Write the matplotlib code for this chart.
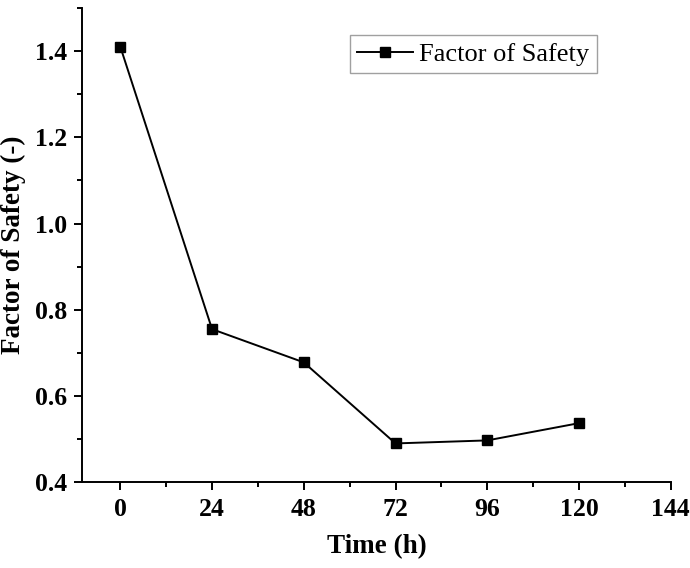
import matplotlib.pyplot as plt
from matplotlib.ticker import MultipleLocator

# valores
time_h = [0, 24, 48, 72, 96, 120]
fos = [1.41, 0.755, 0.678, 0.49, 0.497, 0.537]

plt.rcParams['font.family'] = ['Liberation Serif', 'DejaVu Serif']

fig = plt.figure(figsize=(6.9, 5.68), dpi=100)
ax = fig.add_axes([0.119, 0.151, 0.853, 0.835])

ax.plot(time_h, fos, color='black', linewidth=1.4, marker='s', markersize=7.5,
        label='Factor of Safety')

ax.set_xlim(-10, 144)
ax.set_ylim(0.4, 1.5)
ax.xaxis.set_major_locator(MultipleLocator(24))
ax.xaxis.set_minor_locator(MultipleLocator(12))
ax.yaxis.set_minor_locator(MultipleLocator(0.1))
ax.set_yticks([0.4, 0.6, 0.8, 1.0, 1.2, 1.4])

for side in ['top', 'right']:
    ax.spines[side].set_visible(False)
for side in ['left', 'bottom']:
    ax.spines[side].set_linewidth(1.4)

ax.tick_params(which='major', direction='out', length=6, width=1.4, labelsize=18.5, pad=5)
ax.tick_params(which='minor', direction='out', length=3.5, width=1.4)
for lbl in ax.get_xticklabels() + ax.get_yticklabels():
    lbl.set_fontweight('bold')

ax.set_xlabel('Time (h)', fontsize=19.5, fontweight='bold', labelpad=10)
ax.set_ylabel('Factor of Safety (-)', fontsize=19.5, fontweight='bold', labelpad=6)

leg = ax.legend(loc='upper left', bbox_to_anchor=(0.455, 0.943), fontsize=19,
                fancybox=False, edgecolor='#888888', handlelength=2.1,
                borderpad=0.28, handletextpad=0.25, borderaxespad=0)
leg.get_frame().set_linewidth(1.0)

fig.savefig('out.png', dpi=100)
